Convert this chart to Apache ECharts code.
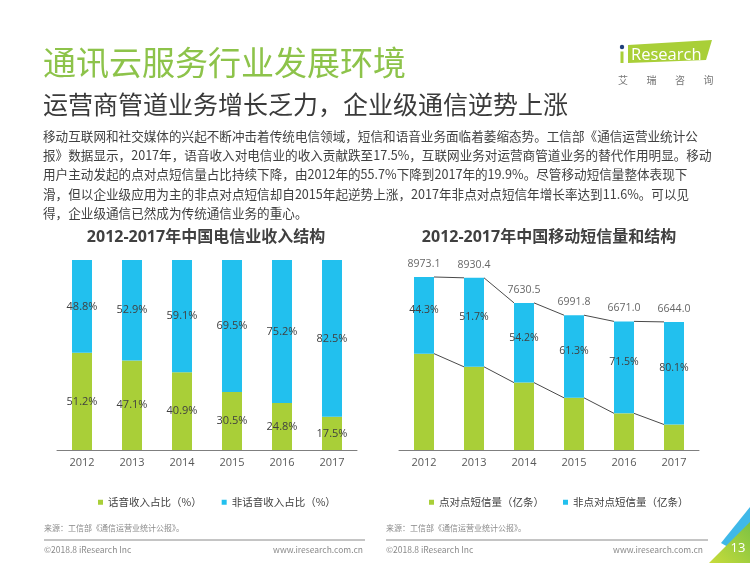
<!DOCTYPE html>
<html><head><meta charset="utf-8">
<script src="https://cdn.jsdelivr.net/npm/echarts@6/dist/echarts.min.js"></script>
<style>html,body{margin:0;padding:0;background:#fff}#c{width:750px;height:563px}</style>
</head><body><div id="c"></div>
<script>
// ---------- data ----------
const years = ['2012', '2013', '2014', '2015', '2016', '2017'];
const voicePct = [51.2, 47.1, 40.9, 30.5, 24.8, 17.5];
const nonVoicePct = [48.8, 52.9, 59.1, 69.5, 75.2, 82.5];
const smsTotal = [8973.1, 8930.4, 7630.5, 6991.8, 6671.0, 6644.0];
const p2pSms = [4998.0, 4313.4, 3494.8, 2705.8, 1901.2, 1322.2];
const nonP2pSms = [3975.1, 4617.0, 4135.7, 4286.0, 4769.8, 5321.8];
const nonP2pPct = [44.3, 51.7, 54.2, 61.3, 71.5, 80.1];
const leftNames = ['话音收入占比（%）', '非话音收入占比（%）'];
const rightNames = ['点对点短信量（亿条）', '非点对点短信量（亿条）'];
const paragraph = [
  '移动互联网和社交媒体的兴起不断冲击着传统电信领域，短信和语音业务面临着萎缩态势。工信部《通信运营业统计公',
  '报》数据显示，2017年，语音收入对电信业的收入贡献跌至17.5%，互联网业务对运营商管道业务的替代作用明显。移动',
  '用户主动发起的点对点短信量占比持续下降，由2012年的55.7%下降到2017年的19.9%。尽管移动短信量整体表现下',
  '滑，但以企业级应用为主的非点对点短信却自2015年起逆势上涨，2017年非点对点短信年增长率达到11.6%。可以见',
  '得，企业级通信已然成为传统通信业务的重心。'
];

// ---------- chart ----------
const GREEN = '#a9cf38', BLUE = '#22c0ee', DARK = '#404040';
const FF = "'Open Sans','Noto Sans CJK SC',sans-serif";
const CJK = "'Noto Sans CJK SC','Open Sans',sans-serif";
const chart = echarts.init(document.getElementById('c'), null, {renderer: 'canvas'});

const connectors = [];
for (let i = 0; i < years.length - 1; i++) {
  connectors.push([i, smsTotal[i], smsTotal[i + 1], p2pSms[i], p2pSms[i + 1]]);
}

function txt(x, y, text, size, color, extra) {
  return {
    type: 'text', x: x, y: y, silent: true,
    style: Object.assign({text: text, fontSize: size, fontFamily: CJK, fill: color, align: 'left', verticalAlign: 'middle'}, extra || {})
  };
}

const graphics = [];
graphics.push(txt(43, 62, '通讯云服务行业发展环境', 33, '#8dc34a'));
graphics.push(txt(43, 104, '运营商管道业务增长乏力，企业级通信逆势上涨', 25, '#3a3a3a'));
paragraph.forEach((l, i) => graphics.push(txt(43, 136 + i * 19.3, l, 12.6, DARK)));
graphics.push(txt(206, 237, '2012-2017年中国电信业收入结构', 16, DARK, {align: 'center', fontWeight: 'bold', fontFamily: FF}));
graphics.push(txt(549, 237, '2012-2017年中国移动短信量和结构', 16, DARK, {align: 'center', fontWeight: 'bold', fontFamily: FF}));
// logo
graphics.push({type: 'polygon', silent: true, shape: {points: [[628, 45], [712, 40], [706, 60], [628, 63]]}, style: {fill: GREEN}});
graphics.push({type: 'circle', silent: true, shape: {cx: 622, cy: 47, r: 2.2}, style: {fill: '#1f3f7a'}});
graphics.push({type: 'rect', silent: true, shape: {x: 620.5, y: 51.5, width: 3, height: 11.5}, style: {fill: GREEN}});
graphics.push(txt(631, 55, 'Research', 16.5, '#ffffff', {fontFamily: "'Open Sans',sans-serif"}));
['艾', '瑞', '咨', '询'].forEach((c, i) => graphics.push(txt(623 + i * 28.5, 80, c, 10, '#777777', {align: 'center'})));
// sources and footers
graphics.push(txt(44, 528, '来源：工信部《通信运营业统计公报》。', 8, '#8a8a8a'));
graphics.push(txt(386, 528, '来源：工信部《通信运营业统计公报》。', 8, '#8a8a8a'));
graphics.push({type: 'line', silent: true, shape: {x1: 44, y1: 540, x2: 365, y2: 540}, style: {stroke: '#8a8a8a', lineWidth: 1}});
graphics.push({type: 'line', silent: true, shape: {x1: 386, y1: 540, x2: 708, y2: 540}, style: {stroke: '#8a8a8a', lineWidth: 1}});
graphics.push(txt(44, 550, '©2018.8 iResearch Inc', 8.5, '#8a8a8a'));
graphics.push(txt(363, 550, 'www.iresearch.com.cn', 8.5, '#8a8a8a', {align: 'right'}));
graphics.push(txt(386, 550, '©2018.8 iResearch Inc', 8.5, '#8a8a8a'));
graphics.push(txt(703, 550, 'www.iresearch.com.cn', 8.5, '#8a8a8a', {align: 'right'}));
// corner decoration
graphics.push({type: 'polygon', silent: true, shape: {points: [[750, 507], [750, 524], [728, 547], [721, 543]]}, style: {fill: '#3fb8e8'}});
graphics.push({type: 'polygon', silent: true, shape: {points: [[750, 522], [750, 563], [709, 563]]},
  style: {fill: new echarts.graphic.LinearGradient(0, 1, 1, 0, [{offset: 0, color: '#c8dc3a'}, {offset: 1, color: '#7cc243'}])}});
graphics.push(txt(738, 548, '13', 13, '#ffffff', {align: 'center', fontFamily: "'Open Sans',sans-serif"}));

const labelBase = {color: DARK, fontSize: 11, fontFamily: FF, textBorderWidth: 0};

chart.setOption({
  animation: false,
  backgroundColor: '#ffffff',
  textStyle: {fontFamily: FF},
  grid: [
    {left: 57, right: 393, top: 260, bottom: 113},
    {left: 399, right: 51, top: 257.2, bottom: 113}
  ],
  legend: [
    {data: leftNames, left: 93, top: 492, itemWidth: 5, itemHeight: 5, itemGap: 20, icon: 'rect',
      textStyle: {color: DARK, fontSize: 10.5, fontFamily: CJK}},
    {data: rightNames, left: 424, top: 492, itemWidth: 5, itemHeight: 5, itemGap: 19, icon: 'rect',
      textStyle: {color: DARK, fontSize: 10.5, fontFamily: CJK}}
  ],
  xAxis: [0, 1].map(g => ({
    gridIndex: g, type: 'category', data: years,
    axisTick: {show: false},
    axisLine: {lineStyle: {color: '#7f7f7f', width: 1}},
    axisLabel: {color: '#595959', fontSize: 11, margin: 7, fontFamily: FF}
  })),
  yAxis: [
    {gridIndex: 0, type: 'value', min: 0, max: 100, show: false},
    {gridIndex: 1, type: 'value', min: 0, max: 10000, show: false}
  ],
  graphic: graphics,
  series: [
    {type: 'bar', name: leftNames[0], xAxisIndex: 0, yAxisIndex: 0, stack: 'l', barWidth: 20, data: voicePct,
      itemStyle: {color: GREEN},
      label: Object.assign({show: true, position: 'inside', formatter: p => p.value.toFixed(1) + '%'}, labelBase)},
    {type: 'bar', name: leftNames[1], xAxisIndex: 0, yAxisIndex: 0, stack: 'l', barWidth: 20, data: nonVoicePct,
      itemStyle: {color: BLUE},
      label: Object.assign({show: true, position: 'inside', formatter: p => p.value.toFixed(1) + '%'}, labelBase)},
    {type: 'bar', name: rightNames[0], xAxisIndex: 1, yAxisIndex: 1, stack: 'r', barWidth: 20, data: p2pSms,
      itemStyle: {color: GREEN}},
    {type: 'bar', name: rightNames[1], xAxisIndex: 1, yAxisIndex: 1, stack: 'r', barWidth: 20, data: nonP2pSms,
      itemStyle: {color: BLUE},
      label: Object.assign({show: true, position: 'inside', offset: [0, -5],
        formatter: p => nonP2pPct[p.dataIndex].toFixed(1) + '%'}, labelBase, {fontSize: 10.5})},
    {type: 'scatter', name: 'total', xAxisIndex: 1, yAxisIndex: 1, data: smsTotal, symbolSize: 0, silent: true,
      label: Object.assign({show: true, position: 'top', distance: 8, formatter: p => p.value.toFixed(1)}, labelBase, {fontSize: 10.5})},
    {type: 'custom', name: 'conn', xAxisIndex: 1, yAxisIndex: 1, data: connectors, silent: true,
      encode: {x: 0, y: [1, 2, 3, 4]},
      renderItem: function (params, api) {
        const i = api.value(0);
        const a = api.coord([i, api.value(1)]);
        const b = api.coord([i + 1, api.value(2)]);
        const c = api.coord([i, api.value(3)]);
        const d = api.coord([i + 1, api.value(4)]);
        const hw = 10;
        const st = {stroke: '#4a4a4a', lineWidth: 1};
        return {type: 'group', children: [
          {type: 'line', shape: {x1: a[0] + hw, y1: a[1], x2: b[0] - hw, y2: b[1]}, style: st},
          {type: 'line', shape: {x1: c[0] + hw, y1: c[1], x2: d[0] - hw, y2: d[1]}, style: st}
        ]};
      }}
  ]
});
</script>
</body></html>
